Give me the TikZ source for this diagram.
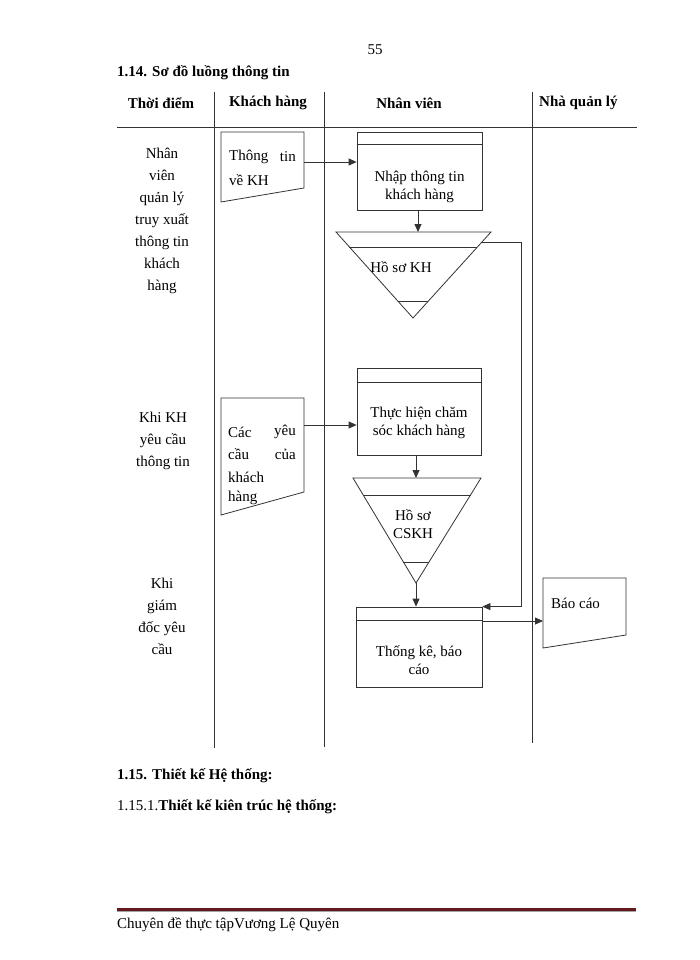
\documentclass[tikz,border=0pt]{standalone}
\usepackage{fontspec}
\setmainfont{Liberation Serif}
\usetikzlibrary{arrows.meta,calc}
\definecolor{lnc}{gray}{0.2}
\definecolor{footred}{RGB}{100,25,30}
\begin{document}
\begin{tikzpicture}[x=1pt,y=-1pt,
  every node/.style={font=\fontsize{15}{18}\selectfont, inner sep=0pt, text=black},
  ln/.style={draw=lnc, line width=0.8pt},
  arr/.style={ln, -{Triangle[length=8pt,width=7pt]}},
  procbox/.style={ln, rectangle, minimum width=#1, inner sep=0pt},
  hdr/.style={font=\fontsize{15}{18}\selectfont\bfseries},
  lcol/.style={align=center, font=\fontsize{15}{22}\selectfont}
]
\useasboundingbox (0,0) rectangle (700,960);

% page number and title
\node (pg) at (375,50) {55};
\node[anchor=west, font=\fontsize{15}{18}\selectfont\bfseries] (title) at (117,73) {1.14. Sơ đồ luồng thông tin};

% headers
\node[hdr] (h1) at (161,103) {Thời điểm};
\node[hdr] (h2) at (268,103) {Khách  hàng};
\node[hdr] (h3) at (409,103) {Nhân  viên};
\node[hdr, anchor=west] (h4) at (539,103) {Nhà quản lý};

% grid lines
\draw[ln] (117,127) -- (637,127);
\draw[ln] (214,92) -- (214,748);
\draw[ln] (324,92) -- (324,747);
\draw[ln] (532,92) -- (532,743);

% left column
\node[lcol] (l1) at (162,221) {Nhân\\viên\\quản lý\\truy xuất\\thông tin\\khách\\hàng};
\node[lcol] (l2) at (163,441) {Khi KH\\yêu cầu\\thông tin};
\node[lcol] (l3) at (162,616) {Khi\\giám\\đốc yêu\\cầu};

% card 1
\coordinate (c1a) at (221,132);
\coordinate (c1b) at (304,132);
\coordinate (c1c) at (304,188);
\coordinate (c1d) at (221,202);
\draw[ln] (c1a) -- (c1b) -- (c1c) -- (c1d) -- cycle;
\node[anchor=west] (c1t1) at (229,157) {Thông};
\node[anchor=east] (c1t2) at (296,157) {tin};
\node[anchor=west] (c1t3) at (229,180) {về KH};
\coordinate (c1o) at (304,162);

% process 1
\node[procbox=125pt, minimum height=78pt] (p1) at (419.5,171) {};
\draw[ln] ([yshift=-13pt]p1.north west) -- ([yshift=-13pt]p1.north east);
\node[align=center] (p1t) at (419.5,187) {Nhập thông tin\\khách hàng};

\draw[arr] (c1o) -- (c1o -| p1.west);

% triangle 1 (Ho so KH)
\coordinate (t1l) at (336,232);
\coordinate (t1r) at (491,232);
\coordinate (t1b) at (413,318);
\draw[ln] (t1l) -- (t1r) -- (t1b) -- cycle;
\draw[ln] (349.4,247) -- (477.4,247);
\draw[ln] (397.8,301) -- (428.4,301);
\node (t1t) at (401,267) {Hồ sơ KH};
\coordinate (t1e) at (482.3,242);

\draw[arr] (p1.south -| 418,0) -- (418,232);

% card 2
\coordinate (c2a) at (221,398);
\coordinate (c2b) at (304,398);
\coordinate (c2c) at (304,492);
\coordinate (c2d) at (221,515);
\draw[ln] (c2a) -- (c2b) -- (c2c) -- (c2d) -- cycle;
\node[anchor=west] (c2t1) at (228,432) {Các};
\node[anchor=east] (c2t2) at (296,432) {yêu};
\node[anchor=west] (c2t3) at (228,454) {cầu};
\node[anchor=east] (c2t4) at (296,454) {của};
\node[anchor=west] (c2t5) at (228,477) {khách};
\node[anchor=west] (c2t6) at (228,498) {hàng};
\coordinate (c2o) at (304,425);

% process 2
\node[procbox=124pt, minimum height=87pt] (p2) at (419,411.5) {};
\draw[ln] ([yshift=-15pt]p2.north west) -- ([yshift=-15pt]p2.north east);
\node[align=center] (p2t) at (419,423) {Thực hiện chăm\\sóc khách hàng};

\draw[arr] (c2o) -- (c2o -| p2.west);

% triangle 2 (Ho so CSKH)
\coordinate (t2l) at (353,478);
\coordinate (t2r) at (481,478);
\coordinate (t2b) at (416,583);
\draw[ln] (t2l) -- (t2r) -- (t2b) -- cycle;
\draw[ln] (363.2,495) -- (470.5,495);
\draw[ln] (403.4,562) -- (429,562);
\node[align=center] (t2t) at (413,524.5) {Hồ sơ\\CSKH};

\draw[arr] (p2.south -| t2b) -- (t2b |- t2l);

% process 3
\node[procbox=126pt, minimum height=80pt] (p3) at (419,647) {};
\draw[ln] ([yshift=-14pt]p3.north west) -- ([yshift=-14pt]p3.north east);
\node[align=center] (p3t) at (419,660.5) {Thống kê, báo\\cáo};

\draw[arr] (t2b) -- (t2b |- p3.north);
\draw[arr] (t1e) -- (521,242) |- (p3.north east);

% card 3
\coordinate (c3a) at (543,578);
\coordinate (c3b) at (626,578);
\coordinate (c3c) at (626,635);
\coordinate (c3d) at (543,648);
\draw[ln] (c3a) -- (c3b) -- (c3c) -- (c3d) -- cycle;
\node[anchor=west] (c3t) at (551,603) {Báo  cáo};
\coordinate (c3i) at (543,621);

\draw[arr] (p3.north east |- c3i) -- (c3i);

% bottom headings
\node[anchor=west, font=\fontsize{15}{18}\selectfont\bfseries] (s1) at (117,776) {1.15. Thiết kế Hệ thống:};
\node[anchor=west] (s2) at (117,807) {1.15.1.\textbf{Thiết kế kiên trúc hệ thống:}};

% footer
\draw[footred, line width=3pt] (117,909) -- (636,909);
\draw[gray!70, line width=1pt] (117,911.5) -- (636,911.5);
\node[anchor=west] (ft) at (117,925) {Chuyên  đề thực tậpVương  Lệ Quyên};
\end{tikzpicture}
\end{document}
